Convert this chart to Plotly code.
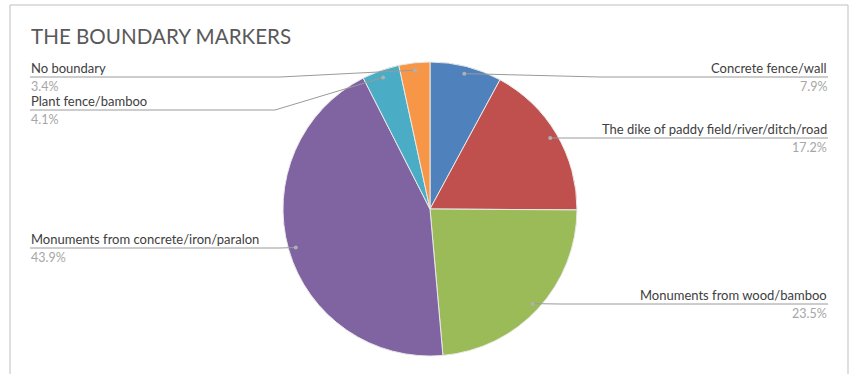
import math
import plotly.graph_objects as go

W, H = 851, 374

# ---- data ----
categories = [
    "Concrete fence/wall",
    "The dike of paddy field/river/ditch/road",
    "Monuments from wood/bamboo",
    "Monuments from concrete/iron/paralon",
    "Plant fence/bamboo",
    "No boundary",
]
values = [7.9, 17.2, 23.5, 43.9, 4.1, 3.4]
pct_labels = ["7.9%", "17.2%", "23.5%", "43.9%", "4.1%", "3.4%"]
colors = ["#4F81BD", "#C0504D", "#9BBB59", "#8064A2", "#4BACC6", "#F79646"]
title_text = "THE BOUNDARY MARKERS"

# ---- layout (pixels) ----
CX, CY, R = 430, 209, 147
DOT_R = 0.95
# side, bend point (x, y) where label underline begins, label edge x
label_layout = [
    ("right", 600, 77, 828),
    ("right", 560, 138, 828),
    ("right", 560, 304, 828),
    ("left", 280, 248, 30),
    ("left", 275, 110, 30),
    ("left", 280, 77, 30),
]

def px(x):
    return x / W

def py(y):
    return 1 - y / H

fig = go.Figure()
fig.add_trace(go.Pie(
    labels=categories,
    values=values,
    sort=False,
    direction="clockwise",
    rotation=0,
    textinfo="none",
    hoverinfo="label+percent",
    marker=dict(colors=colors, line=dict(color="#E8E8E8", width=1)),
    domain=dict(x=[px(CX - R), px(CX + R)], y=[py(CY + R), py(CY - R)]),
    showlegend=False,
))

shapes = []
annotations = []
total = sum(values)
cum = 0.0
lc = "#9A9A9A"
for i, v in enumerate(values):
    mid = (cum + v / 2) / total * 2 * math.pi
    cum += v
    dx = CX + DOT_R * R * math.sin(mid)
    dy = CY - DOT_R * R * math.cos(mid)
    side, bx, by, ex = label_layout[i]
    # leader
    shapes.append(dict(type="line", xref="paper", yref="paper",
                       x0=px(dx), y0=py(dy), x1=px(bx), y1=py(by),
                       line=dict(color=lc, width=1)))
    shapes.append(dict(type="line", xref="paper", yref="paper",
                       x0=px(bx), y0=py(by), x1=px(ex), y1=py(by),
                       line=dict(color=lc, width=1)))
    shapes.append(dict(type="circle", xref="paper", yref="paper",
                       x0=px(dx - 2), x1=px(dx + 2), y0=py(dy + 2), y1=py(dy - 2),
                       fillcolor="#B0B0B0", line=dict(color="#B0B0B0", width=0)))
    anchor = "right" if side == "right" else "left"
    annotations.append(dict(x=px(ex), y=py(by), xref="paper", yref="paper",
                            text=categories[i], showarrow=False, borderpad=0,
                            xanchor=anchor, yanchor="bottom",
                            font=dict(family="Lato", size=13, color="#404040")))
    annotations.append(dict(x=px(ex), y=py(by + 1), xref="paper", yref="paper",
                            text=pct_labels[i], showarrow=False, borderpad=0,
                            xanchor=anchor, yanchor="top",
                            font=dict(family="Lato", size=12.5, color="#A6A6A6")))

annotations.append(dict(x=px(29), y=py(36), xref="paper", yref="paper",
                        text=title_text, showarrow=False,
                        xanchor="left", yanchor="middle",
                        font=dict(family="Lato", size=20.6, color="#595959")))

# chart area border
shapes.append(dict(type="rect", xref="paper", yref="paper",
                   x0=px(10), x1=px(848), y0=py(380), y1=py(5),
                   line=dict(color="#BFBFBF", width=1), fillcolor="rgba(0,0,0,0)"))

fig.update_layout(
    width=W, height=H,
    margin=dict(l=0, r=0, t=0, b=0),
    paper_bgcolor="white",
    plot_bgcolor="white",
    shapes=shapes,
    annotations=annotations,
)
fig.write_html(
    "out.html",
    config={"displayModeBar": False},
    post_script="document.body.style.margin='0px';document.body.style.overflow='hidden';",
)
